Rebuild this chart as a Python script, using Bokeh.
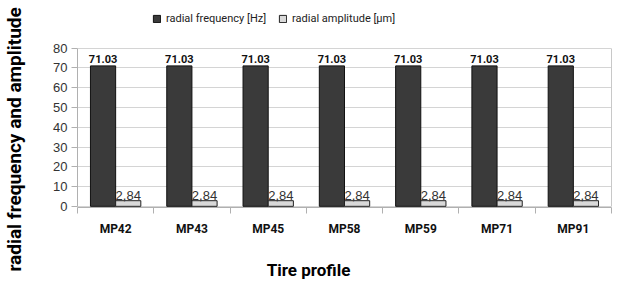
from bokeh.plotting import figure
from bokeh.models import (ColumnDataSource, Range1d, LinearAxis, FixedTicker, Legend, LegendItem)
from bokeh.core.properties import value
from bokeh.embed import file_html
from bokeh.resources import INLINE

profiles = ["MP42", "MP43", "MP45", "MP58", "MP59", "MP71", "MP91"]
frequency = [71.03, 71.03, 71.03, 71.03, 71.03, 71.03, 71.03]
amplitude = [2.84, 2.84, 2.84, 2.84, 2.84, 2.84, 2.84]
freq_labels = ["71.03", "71.03", "71.03", "71.03", "71.03", "71.03", "71.03"]
amp_labels = ["2,84", "2,84", "2,84", "2,84", "2,84", "2,84", "2,84"]
y_ticks = [0, 10, 20, 30, 40, 50, 60, 70, 80]

NARROW = "Roboto"
SANS = "Liberation Sans"
NB = "\u00a0"

n = len(profiles)
bw = 0.33
centers = [i + 0.5 for i in range(n)]
ymax = y_ticks[-1]
src = ColumnDataSource(dict(xf=[c - bw / 2 for c in centers], xa=[c + bw / 2 for c in centers],
                            frequency=frequency, amplitude=amplitude,
                            flab=freq_labels, alab=amp_labels))

# frame extends above the 80 line to leave room for the legend
p = figure(width=612, height=282, x_range=Range1d(0, n), y_range=Range1d(-0.6, 104.1),
           output_backend="svg", toolbar_location=None, x_axis_location=None,
           min_border_left=71, min_border_right=1, min_border_top=0, min_border_bottom=0)
p.outline_line_color = None
p.xgrid.grid_line_color = None
p.ygrid.grid_line_color = "#d4d4d4"
p.ygrid.ticker = FixedTicker(ticks=y_ticks)

r1 = p.vbar(x="xf", top="frequency", width=bw, source=src,
            fill_color="#3a3a3a", line_color="#111111", line_width=1)
r2 = p.vbar(x="xa", top="amplitude", width=bw, source=src,
            fill_color="#d9d9d9", line_color="#222222", line_width=1)

p.text(x="xf", y="frequency", text="flab", source=src,
       text_align="center", text_baseline="bottom", y_offset=-3,
       text_font=value(NARROW), text_font_size="11px", text_font_style="bold", text_color="#111111")
p.text(x="xa", y="amplitude", text="alab", source=src,
       text_align="center", text_baseline="bottom", y_offset=-1,
       text_font=value(SANS), text_font_size="13px", text_color="#333333")

# y axis
ya = p.yaxis[0]
ya.bounds = (0, ymax)
ya.ticker = FixedTicker(ticks=y_ticks)
ya.axis_line_color = "#b0b0b0"
ya.major_tick_line_color = "#b0b0b0"
ya.major_tick_out = 6
ya.major_tick_in = 0
ya.minor_tick_line_color = None
ya.major_label_standoff = 4
ya.major_label_text_font = SANS
ya.major_label_text_font_size = "13px"
ya.major_label_text_color = "#333333"
ya.axis_label = "radial frequency and amplitude" + NB * 15
ya.axis_label_text_font = NARROW
ya.axis_label_text_font_size = "19px"
ya.axis_label_text_font_style = "bold"
ya.axis_label_text_color = "#000000"
ya.axis_label_standoff = 24

# right border line of the plot area
ra = LinearAxis(bounds=(0, ymax), ticker=FixedTicker(ticks=[]), axis_line_color="#c8c8c8",
                major_tick_line_color=None, minor_tick_line_color=None,
                major_label_text_font_size="1px", major_label_text_alpha=0, major_label_standoff=0)
p.add_layout(ra, "right")

# x axis: ticks at category boundaries, labels at category centres
ta = LinearAxis(ticker=FixedTicker(ticks=list(range(n + 1))),
                major_tick_out=6, major_tick_in=0, axis_line_color="#b0b0b0",
                major_tick_line_color="#b0b0b0", minor_tick_line_color=None,
                major_label_text_font_size="1px", major_label_text_alpha=0, major_label_standoff=0)
p.add_layout(ta, "below")

ca = LinearAxis(ticker=FixedTicker(ticks=centers),
                major_label_overrides={c: name for c, name in zip(centers, profiles)},
                axis_line_color=None, major_tick_line_color=None, minor_tick_line_color=None,
                major_label_standoff=2, major_label_text_font=NARROW,
                major_label_text_font_size="12px", major_label_text_font_style="bold",
                major_label_text_color="#111111",
                axis_label="Tire profile" + NB * 17, axis_label_standoff=21,
                axis_label_text_font=NARROW, axis_label_text_font_size="17px",
                axis_label_text_font_style="bold", axis_label_text_color="#000000")
p.add_layout(ca, "below")

legend = Legend(items=[LegendItem(label="radial frequency [Hz]", renderers=[r1]),
                       LegendItem(label="radial amplitude [µm]", renderers=[r2])],
                orientation="horizontal", location=(75, 182), glyph_width=9, glyph_height=9,
                label_height=14, label_text_font=NARROW, label_text_font_size="11px",
                label_text_color="#222222", padding=2, margin=0, spacing=12, label_standoff=5,
                border_line_color=None, background_fill_alpha=0)
p.add_layout(legend, "center")

open("out.html", "w").write(file_html(p, INLINE))
